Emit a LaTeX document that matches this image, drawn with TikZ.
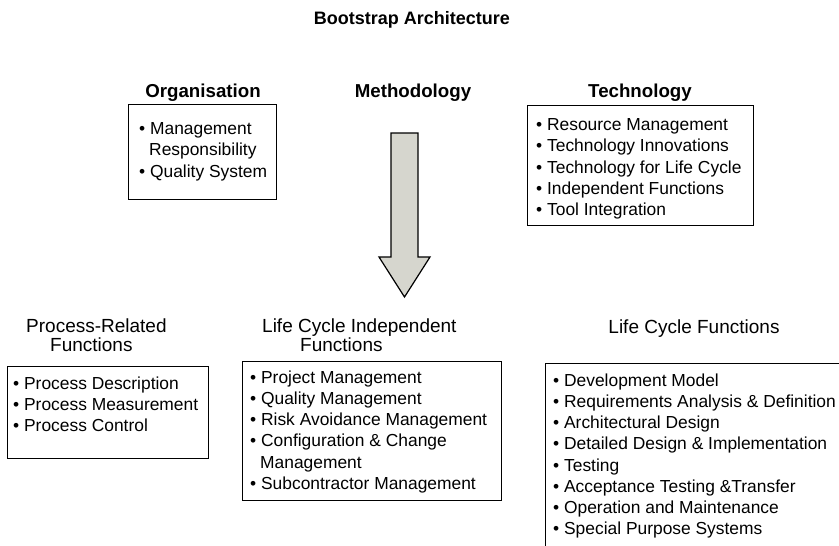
\documentclass[tikz,border=0pt]{standalone}
\usepackage{fontspec}
\setmainfont{Liberation Sans}
\usepackage{xcolor}
\usetikzlibrary{positioning}
\definecolor{arrowgrey}{RGB}{214,214,206}

\begin{document}
\begin{tikzpicture}[
    x=1pt, y=-1pt,
    title/.style={font=\bfseries\fontsize{18}{21}\selectfont, anchor=base, inner sep=0pt},
    head/.style={font=\bfseries\fontsize{18.7}{22}\selectfont, anchor=base, inner sep=0pt},
    plainhead/.style={font=\fontsize{19}{19}\selectfont, align=left, anchor=north west, inner sep=0pt},
    listbox/.style={rectangle, draw, line width=1.2pt, anchor=north west, inner sep=0pt},
    items/.style={font=\fontsize{17.4}{21.2}\selectfont, align=left, anchor=north west, inner sep=0pt},
    bigarrow/.style={draw, line width=1.2pt, fill=arrowgrey, line join=miter}
]
\useasboundingbox (0,0) rectangle (839,546);
\clip (0,0) rectangle (839,546);

% Headings
\node[title] (ttl) at (412,24) {Bootstrap Architecture};
\node[head] (org) at (203,97) {Organisation};
\node[head] (meth) at (413,97) {Methodology};
\node[head] (tech) at (640,97) {Technology};

% Upper boxes
\node[listbox, minimum width=148pt, minimum height=95pt] (orgbox) at (128,104) {};
\node[items] (orgitems) at (139,122.5) {• Management\\\hspace{10pt}Responsibility\\• Quality System};

\node[listbox, minimum width=226pt, minimum height=120pt] (techbox) at (527,105) {};
\node[items] (techitems) at (536,118.5) {• Resource Management\\• Technology Innovations\\• Technology for Life Cycle\\• Independent Functions\\• Tool Integration};

% Arrow from methodology down to the functions
\draw[bigarrow] (391,133) -- (418,133) -- (418,257) -- (430,257) -- (404.5,297)
    -- (379,257) -- (391,257) -- cycle;

% Lower headings
\node[plainhead] (prochead) at (26,319) {Process-Related\\\hspace{24pt}Functions};
\node[plainhead] (lcihead) at (262,319) {Life Cycle Independent\\\hspace{38pt}Functions};
\node[head, font=\fontsize{19}{19}\selectfont] (lcfhead) at (694,333) {Life Cycle Functions};

% Lower boxes
\node[listbox, minimum width=201pt, minimum height=92pt] (procbox) at (7,366) {};
\node[items] (procitems) at (13,376.5) {• Process Description\\• Process Measurement\\• Process Control};

\node[listbox, minimum width=259pt, minimum height=139pt] (lcibox) at (242,361) {};
\node[items] (lciitems) at (250,370.5) {• Project Management\\• Quality Management\\• Risk Avoidance Management\\• Configuration \& Change\\\hspace{10pt}Management\\• Subcontractor Management};

\node[listbox, minimum width=310pt, minimum height=200pt] (lcfbox) at (545,363) {};
\node[items] (lcfitems) at (553,373.5) {• Development Model\\• Requirements Analysis \& Definition\\• Architectural Design\\• Detailed Design \& Implementation\\• Testing\\• Acceptance Testing \&Transfer\\• Operation and Maintenance\\• Special Purpose Systems};

\end{tikzpicture}
\end{document}
